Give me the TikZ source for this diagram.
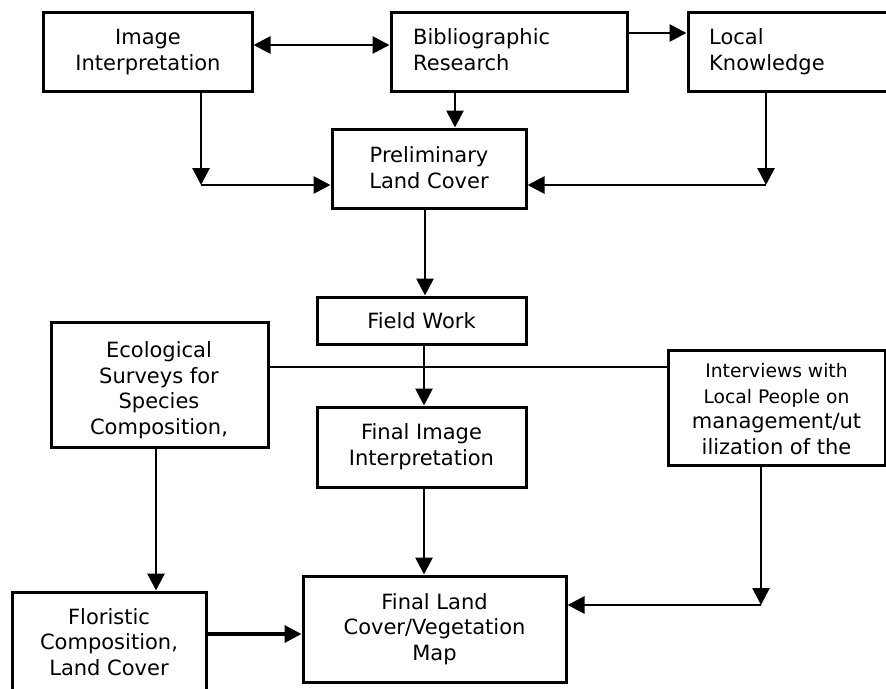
\documentclass[tikz,border=0pt]{standalone}
\usepackage{fontspec}
\setmainfont{DejaVu Sans}
\usetikzlibrary{arrows.meta}
\newcommand{\bigtxt}{\fontsize{21}{25.5}\selectfont}
\newcommand{\smalltxt}{\fontsize{18.7}{25}\selectfont}
\begin{document}
\begin{tikzpicture}[x=1pt,y=-1pt,
  box/.style={draw=black, line width=3pt, rectangle, inner sep=0pt},
  lbl/.style={inner sep=0pt, anchor=base, align=center, font=\bigtxt},
  lblleft/.style={inner sep=0pt, anchor=base west, align=left, font=\bigtxt},
  arr/.style={line width=2.8pt, -{Triangle[length=17pt,width=17pt]}},
  darr/.style={line width=2.8pt, {Triangle[length=17pt,width=17pt]}-{Triangle[length=17pt,width=17pt]}},
  thin/.style={line width=2pt},
  heavy arr/.style={line width=3.6pt, -{Triangle[length=17pt,width=17pt]}}]
\useasboundingbox (0,0) rectangle (886,688);
\clip (0,0) rectangle (886,688);

% boxes
\node[box, minimum width=209pt, minimum height=79pt] (img) at (147.5,51.5) {};
\node[box, minimum width=236pt, minimum height=79pt] (bib) at (509,51.5) {};
\node[box, minimum width=206pt, minimum height=79pt] (loc) at (791,51.5) {};
\node[box, minimum width=194pt, minimum height=79pt] (pre) at (429,168.5) {};
\node[box, minimum width=209pt, minimum height=47pt] (fw) at (421.5,320.5) {};
\node[box, minimum width=217pt, minimum height=125pt] (eco) at (159.5,384.5) {};
\node[box, minimum width=209pt, minimum height=80pt] (fii) at (421.5,447) {};
\node[box, minimum width=217pt, minimum height=115pt] (intv) at (776.5,407.5) {};
\node[box, minimum width=194pt, minimum height=118pt] (flo) at (109,651) {};
\node[box, minimum width=263pt, minimum height=106pt] (map) at (434.5,629) {};

% texts (anchored on the baseline of the last line)
\node[lbl] (img-t) at (148,70) {Image\\Interpretation};
\node[lblleft] (bib-t) at (413,70) {Bibliographic\\Research};
\node[lblleft] (loc-t) at (709,70) {Local\\Knowledge};
\node[lbl] (pre-t) at (429,188) {Preliminary\\Land Cover};
\node[lbl] (fw-t) at (421.5,328) {Field Work};
\node[lbl] (eco-t) at (159,434) {Ecological\\Surveys for\\Species\\Composition,};
\node[lbl] (fii-t) at (421.5,465) {Final Image\\Interpretation};
\node[lbl] (intv-t) at (776.5,454) {\smalltxt Interviews with\\\smalltxt Local People on\\\bigtxt management/ut\\\bigtxt ilization of the};
\node[lbl] (flo-t) at (109,675) {Floristic\\Composition,\\Land Cover};
\node[lbl] (map-t) at (434.5,660) {Final Land\\Cover/Vegetation\\Map};

% routing points
\coordinate (jL) at (201,185);
\coordinate (jR) at (766,185);
\coordinate (jI) at (761,605);
\coordinate (xb) at (455,0);
\coordinate (xp) at (425,0);
\coordinate (xf) at (424,0);
\coordinate (xe) at (156,0);
\coordinate (yd) at (0,45);
\coordinate (yr) at (0,33);
\coordinate (yh) at (0,367);
\coordinate (yf) at (0,634);

% connectors
\draw[darr] (img.east |- yd) -- (bib.west |- yd);
\draw[arr] (bib.east |- yr) -- (loc.west |- yr);
\draw[arr] (bib.south -| xb) -- (pre.north -| xb);
\draw[arr] (img.south -| jL) -- (jL);
\draw[arr] (jL) -- (pre.west |- jL);
\draw[arr] (loc.south -| jR) -- (jR);
\draw[arr] (jR) -- (pre.east |- jR);
\draw[arr] (pre.south -| xp) -- (fw.north -| xp);
\draw[thin] (eco.east |- yh) -- (intv.west |- yh);
\draw[arr] (fw.south -| xf) -- (fii.north -| xf);
\draw[arr] (fii.south -| xf) -- (map.north -| xf);
\draw[arr] (eco.south -| xe) -- (flo.north -| xe);
\draw[arr] (intv.south -| jI) -- (jI);
\draw[arr] (jI) -- (map.east |- jI);
\draw[heavy arr] (flo.east |- yf) -- (map.west |- yf);
\end{tikzpicture}
\end{document}
